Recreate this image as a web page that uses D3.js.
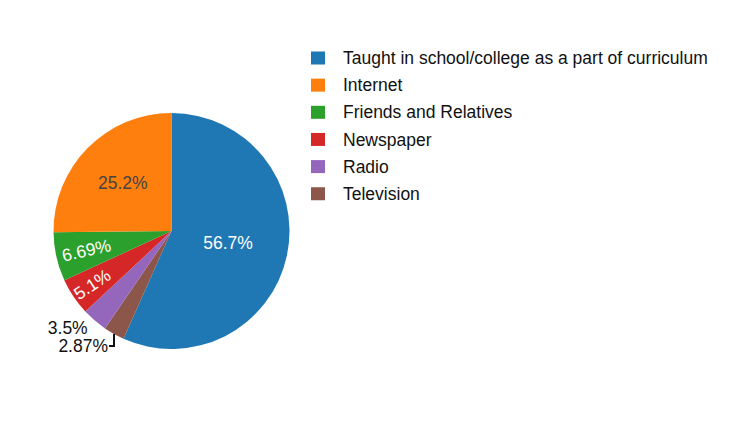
<!DOCTYPE html>
<html lang="en">
<head>
    <meta charset="UTF-8">
    <title>Source of awareness</title>
    <script src="https://d3js.org/d3.v7.min.js"></script>
    <style>
        body { margin: 0; background: #fff; }
        svg { font-family: "Liberation Sans", Arial, sans-serif; }
    </style>
</head>
<body>
<div id="chart"></div>
<script>
    // Data (legend order)
    const categories = ["Taught in school/college as a part of curriculum", "Internet", "Friends and Relatives", "Newspaper", "Radio", "Television"];
    const values = [56.7, 25.2, 6.69, 5.1, 3.5, 2.87];
    const labels = ["56.7%", "25.2%", "6.69%", "5.1%", "3.5%", "2.87%"];
    const colors = ["#1f77b4", "#ff7f0e", "#2ca02c", "#d62728", "#9467bd", "#8c564b"];

    // Drawing order around the circle (clockwise from 12 o'clock)
    const drawOrder = [0, 5, 4, 3, 2, 1];

    const width = 750, height = 426;
    const cx = 171.5, cy = 231, r = 118;

    const svg = d3.select("#chart").append("svg").attr("width", width).attr("height", height);

    const rows = drawOrder.map(i => ({ i, name: categories[i], v: values[i], label: labels[i], color: colors[i] }));
    const pie = d3.pie().sort(null).value(d => d.v);
    const arcs = pie(rows);
    const arc = d3.arc().innerRadius(0).outerRadius(r);

    const g = svg.append("g").attr("transform", `translate(${cx},${cy})`);

    g.selectAll("path.slice")
        .data(arcs)
        .enter()
        .append("path")
        .attr("class", "slice")
        .attr("d", arc)
        .attr("fill", d => d.data.color);

    // inside text: radius fraction, radial rotation for the narrow ones
    const inside = { 0: { f: 0.49, rot: false, fill: "#fff" }, 1: { f: 0.58, rot: false, fill: "#444" },
                     2: { f: 0.74, rot: true, fill: "#fff" }, 3: { f: 0.81, rot: true, fill: "#fff" } };

    arcs.forEach(d => {
        const mid = (d.startAngle + d.endAngle) / 2;
        const dx = Math.sin(mid), dy = -Math.cos(mid);
        const spec = inside[d.data.i];
        if (spec) {
            const x = dx * r * spec.f, y = dy * r * spec.f;
            const deg = mid * 180 / Math.PI;
            const rot = spec.rot ? deg - 270 : 0;
            g.append("text")
                .attr("transform", `translate(${x},${y}) rotate(${rot})`)
                .attr("text-anchor", "middle")
                .attr("dy", "0.35em")
                .attr("font-size", 17.5)
                .attr("fill", spec.fill)
                .text(d.data.label);
        }
    });

    // outside labels
    const radio = arcs.find(d => d.data.i === 4);
    const tv = arcs.find(d => d.data.i === 5);

    const radioMid = (radio.startAngle + radio.endAngle) / 2;
    g.append("text")
        .attr("x", Math.sin(radioMid) * r - 7)
        .attr("y", -Math.cos(radioMid) * r + 7)
        .attr("text-anchor", "end")
        .attr("dy", "0.35em")
        .attr("font-size", 17.5)
        .attr("fill", "#111")
        .text(radio.data.label);

    const tvMid = (tv.startAngle + tv.endAngle) / 2;
    const px = Math.sin(tvMid) * r, py = -Math.cos(tvMid) * r;
    const ly = py + 12;
    g.append("path")
        .attr("d", `M${px},${py}V${ly}H${px - 5}`)
        .attr("fill", "none")
        .attr("stroke", "#111")
        .attr("stroke-width", 2);
    g.append("text")
        .attr("x", px - 6)
        .attr("y", ly)
        .attr("text-anchor", "end")
        .attr("dy", "0.35em")
        .attr("font-size", 17.5)
        .attr("fill", "#111")
        .text(tv.data.label);

    // Legend
    const legend = svg.append("g").attr("transform", "translate(311,58)");
    const item = legend.selectAll("g")
        .data(categories)
        .enter()
        .append("g")
        .attr("transform", (d, i) => `translate(0,${i * 27.15})`);
    item.append("rect")
        .attr("x", 0).attr("y", -6.5)
        .attr("width", 14).attr("height", 13)
        .attr("fill", (d, i) => colors[i]);
    item.append("text")
        .attr("x", 32)
        .attr("dy", "0.35em")
        .attr("font-size", 17.5)
        .attr("fill", "#111")
        .text(d => d);
</script>
</body>
</html>
